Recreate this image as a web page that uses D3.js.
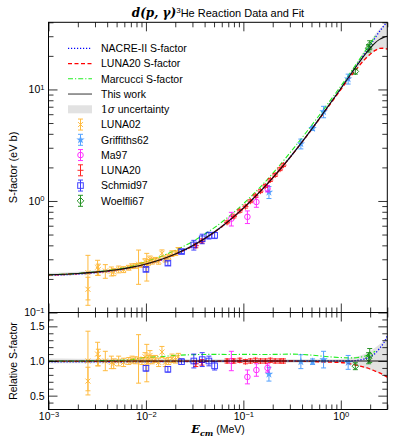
<!DOCTYPE html>
<html>
<head>
<meta charset="utf-8">
<script src="https://cdn.jsdelivr.net/npm/d3@7"></script>
<style>
body { margin: 0; background: #fff; }
text { font-family: "Liberation Sans", sans-serif; }
</style>
</head>
<body>
<div id="chart"></div>
<script>
// energy grid of the model curves (MeV)
var gridE = [0.001, 0.002, 0.003, 0.005, 0.007, 0.01, 0.015, 0.02, 0.03, 0.05, 0.07, 0.1, 0.15, 0.2, 0.3, 0.5, 0.7, 1.0, 1.3, 1.5, 1.75, 2.0, 2.25, 2.5, 2.75, 3.0];
// S-factors (eV b)
var thisWork = [0.218, 0.224, 0.230, 0.242, 0.254, 0.272, 0.303, 0.334, 0.396, 0.524, 0.656, 0.862, 1.225, 1.612, 2.45, 4.38, 6.59, 10.2, 14.2, 16.9, 20.3, 23.4, 26.2, 28.1, 29.3, 30.0];
var luna20S = [0.217, 0.223, 0.229, 0.241, 0.253, 0.271, 0.302, 0.333, 0.395, 0.523, 0.655, 0.861, 1.224, 1.61, 2.45, 4.35, 6.49, 9.98, 13.55, 15.8, 18.5, 20.7, 22.4, 23.3, 23.4, 23.0];
var nacreS = [0.215, 0.221, 0.227, 0.238, 0.251, 0.269, 0.300, 0.331, 0.393, 0.521, 0.654, 0.862, 1.225, 1.612, 2.45, 4.38, 6.59, 10.2, 14.2, 17.1, 20.9, 24.8, 29.1, 33.2, 36.9, 40.8];
var marcucciE = [0.001, 0.002, 0.003, 0.005, 0.007, 0.01, 0.015, 0.02, 0.03, 0.05, 0.07, 0.1, 0.15, 0.2, 0.3, 0.5, 0.7, 1.0, 1.3, 1.5, 1.75, 2.0, 2.25];
var marcucciS = [0.218, 0.224, 0.231, 0.244, 0.259, 0.286, 0.323, 0.361, 0.432, 0.574, 0.718, 0.944, 1.341, 1.765, 2.695, 4.75, 7.02, 10.71, 14.84, 17.75, 21.7, 25.7, 29.9];
// 1 sigma band of the fit, relative to the fit
var fitLoRel = [0.965, 0.966, 0.967, 0.968, 0.969, 0.970, 0.971, 0.972, 0.973, 0.974, 0.975, 0.975, 0.975, 0.975, 0.975, 0.975, 0.973, 0.97, 0.95, 0.93, 0.90, 0.87, 0.845, 0.82, 0.795, 0.77];
var fitHiRel = [1.035, 1.034, 1.033, 1.032, 1.031, 1.030, 1.029, 1.028, 1.027, 1.026, 1.025, 1.025, 1.025, 1.025, 1.025, 1.025, 1.027, 1.03, 1.05, 1.07, 1.10, 1.14, 1.19, 1.24, 1.29, 1.35];

// data sets: energy, S / fit, error of S / fit
var luna02E = [0.00254, 0.00254, 0.00319, 0.00325, 0.00383, 0.00442, 0.00467, 0.00525, 0.0059, 0.00666, 0.0072, 0.0078, 0.0084, 0.0091, 0.0098, 0.0102, 0.0106, 0.011, 0.0116, 0.0125, 0.0135, 0.0146, 0.0158, 0.0171, 0.0185, 0.0201, 0.0215];
var luna02Rel = [1.00, 0.71, 1.10, 1.05, 1.00, 0.98, 0.96, 1.00, 0.98, 1.00, 1.02, 1.01, 1.03, 1.00, 1.06, 0.97, 1.02, 1.08, 1.02, 1.03, 0.98, 1.13, 0.98, 1.00, 1.04, 1.02, 1.06];
var luna02Err = [0.43, 0.20, 0.17, 0.12, 0.14, 0.09, 0.07, 0.07, 0.06, 0.05, 0.05, 0.05, 0.35, 0.05, 0.06, 0.27, 0.06, 0.07, 0.06, 0.05, 0.06, 0.08, 0.06, 0.05, 0.06, 0.05, 0.05];
var griffE = [0.183, 0.389, 0.513, 0.665, 1.19];
var griffRel = [0.81, 0.99, 0.99, 1.02, 0.98];
var griffErr = [0.10, 0.10, 0.04, 0.12, 0.10];
var ma97E = [0.0753, 0.110, 0.136, 0.177];
var ma97Rel = [1.00, 0.77, 0.87, 0.90];
var ma97Err = [0.14, 0.10, 0.09, 0.06];
var luna20E = [0.0325, 0.0375, 0.068, 0.080, 0.092, 0.105, 0.118, 0.133, 0.150, 0.168, 0.189, 0.212, 0.238, 0.258];
var luna20Rel = [0.96, 0.98, 1.00, 1.00, 1.01, 0.99, 1.00, 1.01, 1.00, 1.00, 1.01, 1.00, 1.00, 1.00];
var luna20Err = [0.04, 0.04, 0.03, 0.03, 0.03, 0.03, 0.03, 0.03, 0.03, 0.03, 0.03, 0.03, 0.03, 0.03];
var schmidE = [0.0100, 0.0168, 0.0232, 0.0310, 0.0378, 0.0443, 0.0507];
var schmidRel = [0.895, 0.88, 0.99, 1.00, 1.02, 1.00, 0.93];
var schmidErr = [0.04, 0.04, 0.04, 0.10, 0.10, 0.07, 0.06];
var woelfliE = [1.41, 1.93, 1.98];
var woelfliRel = [0.925, 1.04, 1.08];
var woelfliErr = [0.05, 0.08, 0.10];

var xMajor = [0.001, 0.01, 0.1, 1];
var yTopMajor = [0.1, 1, 10];
var yBotMajor = [0.5, 1.0, 1.5];
var yBotMinor = [0.4, 0.6, 0.7, 0.8, 0.9, 1.1, 1.2, 1.3, 1.4, 1.6];

var datasets = [
  {name: "LUNA02", e: luna02E, rel: luna02Rel, err: luna02Err, color: "#ffa500", marker: "x", op: 0.75},
  {name: "Griffiths62", e: griffE, rel: griffRel, err: griffErr, color: "#2b8cff", marker: "star", op: 0.8},
  {name: "Ma97", e: ma97E, rel: ma97Rel, err: ma97Err, color: "#ff00ff", marker: "o", op: 0.8},
  {name: "LUNA20", e: luna20E, rel: luna20Rel, err: luna20Err, color: "#ff0000", marker: "+", op: 0.85},
  {name: "Schmid97", e: schmidE, rel: schmidRel, err: schmidErr, color: "#0000ff", marker: "s", op: 0.75},
  {name: "Woelfli67", e: woelfliE, rel: woelfliRel, err: woelfliErr, color: "#008000", marker: "D", op: 0.85}
];

var W = 395, H = 444;
var L = 48.5, R = 387.3, T = 22.3, MID = 312.5, B = 409.5;

var svg = d3.select("#chart").append("svg").attr("width", W).attr("height", H);

var x = d3.scaleLog().domain([1e-3, 3]).range([L, R]);
var yTop = d3.scaleLog().domain([0.1, 40]).range([MID, T]);
var yBot = d3.scaleLinear().domain([0.3, 1.7]).range([B, MID]);

// fit value at any energy (log-log between grid points)
function fitAt(e) {
  var i = d3.bisectLeft(gridE, e);
  if (i <= 0) return thisWork[0];
  if (i >= gridE.length) return thisWork[gridE.length - 1];
  var t = (Math.log(e) - Math.log(gridE[i - 1])) / (Math.log(gridE[i]) - Math.log(gridE[i - 1]));
  return Math.exp(Math.log(thisWork[i - 1]) + t * (Math.log(thisWork[i]) - Math.log(thisWork[i - 1])));
}

var defs = svg.append("defs");
defs.append("clipPath").attr("id", "clipTop").append("rect")
  .attr("x", L).attr("y", T).attr("width", R - L).attr("height", MID - T);
defs.append("clipPath").attr("id", "clipBot").append("rect")
  .attr("x", L).attr("y", MID).attr("width", R - L).attr("height", B - MID);

var gTop = svg.append("g").attr("clip-path", "url(#clipTop)");
var gBot = svg.append("g").attr("clip-path", "url(#clipBot)");

var curves = [
  {e: gridE, s: nacreS, color: "#0000ff", dash: "1.2,1.8", w: 1.3},
  {e: gridE, s: luna20S, color: "#ff0000", dash: "4,2.5", w: 1.3},
  {e: marcucciE, s: marcucciS, color: "#22ee22", dash: "5,2,1.2,2", w: 1.1}
];

function drawPanel(g, y, relative) {
  // band
  var band = d3.area()
    .x(function(d, i) { return x(gridE[i]); })
    .y0(function(d, i) { return y(fitLoRel[i] * (relative ? 1 : thisWork[i])); })
    .y1(function(d, i) { return y(fitHiRel[i] * (relative ? 1 : thisWork[i])); })
    .curve(d3.curveMonotoneX);
  g.append("path").datum(gridE).attr("d", band).attr("fill", "#e2e2e2").attr("stroke", "none");

  curves.forEach(function(c) {
    var line = d3.line()
      .x(function(d, i) { return x(c.e[i]); })
      .y(function(d, i) { return y(relative ? c.s[i] / thisWork[i] : c.s[i]); })
      .curve(d3.curveMonotoneX);
    g.append("path").datum(c.e).attr("d", line)
      .attr("fill", "none").attr("stroke", c.color).attr("stroke-width", c.w)
      .attr("stroke-dasharray", c.dash);
  });

  datasets.forEach(function(ds) {
    var dg = g.append("g").attr("opacity", ds.op);
    ds.e.forEach(function(e, i) {
      var f = relative ? 1 : fitAt(e);
      var v = ds.rel[i] * f, err = ds.err[i] * f;
      var px = x(e), py = y(v);
      errBar(dg, px, y(v + err), y(Math.max(v - err, 1e-3)), ds.color);
      marker(dg, ds.marker, px, py, ds.color);
    });
  });

  var fitLine = d3.line()
    .x(function(d, i) { return x(gridE[i]); })
    .y(function(d, i) { return y(relative ? 1 : thisWork[i]); })
    .curve(d3.curveMonotoneX);
  g.append("path").datum(gridE).attr("d", fitLine)
    .attr("fill", "none").attr("stroke", "#111").attr("stroke-width", 1.1);
}

function errBar(g, px, y1, y2, color) {
  g.append("line").attr("x1", px).attr("x2", px).attr("y1", y1).attr("y2", y2)
    .attr("stroke", color).attr("stroke-width", 1);
  [y1, y2].forEach(function(yy) {
    g.append("line").attr("x1", px - 2.5).attr("x2", px + 2.5).attr("y1", yy).attr("y2", yy)
      .attr("stroke", color).attr("stroke-width", 1);
  });
}

function marker(g, type, px, py, color) {
  if (type === "x") {
    g.append("path").attr("d", "M" + (px - 2.5) + "," + (py - 2.5) + "L" + (px + 2.5) + "," + (py + 2.5) +
      "M" + (px - 2.5) + "," + (py + 2.5) + "L" + (px + 2.5) + "," + (py - 2.5))
      .attr("stroke", color).attr("stroke-width", 1);
  } else if (type === "+") {
    g.append("path").attr("d", "M" + (px - 3) + "," + py + "L" + (px + 3) + "," + py +
      "M" + px + "," + (py - 3) + "L" + px + "," + (py + 3))
      .attr("stroke", color).attr("stroke-width", 1);
  } else if (type === "star") {
    g.append("path").attr("d", d3.symbol().type(d3.symbolStar).size(22)())
      .attr("transform", "translate(" + px + "," + py + ")").attr("fill", color);
  } else if (type === "o") {
    g.append("circle").attr("cx", px).attr("cy", py).attr("r", 2.8)
      .attr("fill", "none").attr("stroke", color).attr("stroke-width", 1);
  } else if (type === "s") {
    g.append("rect").attr("x", px - 2.8).attr("y", py - 2.8).attr("width", 5.6).attr("height", 5.6)
      .attr("fill", "none").attr("stroke", color).attr("stroke-width", 1);
  } else if (type === "D") {
    g.append("path").attr("d", "M" + px + "," + (py - 3.3) + "L" + (px + 3.3) + "," + py + "L" + px + "," + (py + 3.3) + "L" + (px - 3.3) + "," + py + "Z")
      .attr("fill", "none").attr("stroke", color).attr("stroke-width", 1);
  }
}

drawPanel(gTop, yTop, false);
drawPanel(gBot, yBot, true);

// axes
function supLabels(sel) {
  sel.selectAll(".tick text").each(function(d) {
    var t = d3.select(this);
    var p = Math.round(Math.log10(d));
    t.text("10");
    t.append("tspan").attr("dy", "-0.45em").attr("font-size", "0.72em").text(p < 0 ? "\u2212" + (-p) : p);
  });
}

function styleAxis(g) {
  g.select(".domain").remove();
  g.selectAll(".tick line").attr("stroke", "#000").attr("stroke-width", 0.8);
  g.selectAll(".tick text").attr("font-family", "'DejaVu Serif', serif").attr("font-size", 10.5).attr("fill", "#000");
}

var xMinor = x.ticks().filter(function(v) { return xMajor.indexOf(v) < 0; });
var yTopMinor = yTop.ticks().filter(function(v) { return yTopMajor.indexOf(v) < 0; });

[[T, MID, yTop, yTopMajor, yTopMinor, true], [MID, B, yBot, yBotMajor, yBotMinor, false]].forEach(function(p) {
  var top = p[0], bot = p[1], y = p[2], maj = p[3], mnr = p[4], isLog = p[5];
  var isBottom = !isLog;
  // x ticks
  var gb = svg.append("g").attr("transform", "translate(0," + bot + ")")
    .call(d3.axisBottom(x).tickValues(xMajor).tickSize(-9).tickPadding(3).tickFormat(isBottom ? null : ""));
  styleAxis(gb);
  if (isBottom) supLabels(gb);
  styleAxis(svg.append("g").attr("transform", "translate(0," + bot + ")")
    .call(d3.axisBottom(x).tickValues(xMinor).tickSize(-5).tickFormat("")));
  styleAxis(svg.append("g").attr("transform", "translate(0," + top + ")")
    .call(d3.axisTop(x).tickValues(xMajor).tickSize(-9).tickFormat("")));
  styleAxis(svg.append("g").attr("transform", "translate(0," + top + ")")
    .call(d3.axisTop(x).tickValues(xMinor).tickSize(-5).tickFormat("")));
  // y ticks
  var gl = svg.append("g").attr("transform", "translate(" + L + ",0)")
    .call(d3.axisLeft(y).tickValues(maj).tickSize(-9).tickPadding(4)
      .tickFormat(isLog ? null : d3.format(".1f")));
  styleAxis(gl);
  if (isLog) supLabels(gl);
  styleAxis(svg.append("g").attr("transform", "translate(" + L + ",0)")
    .call(d3.axisLeft(y).tickValues(mnr).tickSize(-5).tickFormat("")));
  styleAxis(svg.append("g").attr("transform", "translate(" + R + ",0)")
    .call(d3.axisRight(y).tickValues(maj).tickSize(-9).tickFormat("")));
  styleAxis(svg.append("g").attr("transform", "translate(" + R + ",0)")
    .call(d3.axisRight(y).tickValues(mnr).tickSize(-5).tickFormat("")));
  svg.append("rect").attr("x", L).attr("y", top).attr("width", R - L).attr("height", bot - top)
    .attr("fill", "none").attr("stroke", "#000").attr("stroke-width", 1);
});

// legend
var legendItems = [
  {label: "NACRE-II S-factor", kind: "line", color: "#0000ff", dash: "1.2,1.8", w: 1.3},
  {label: "LUNA20 S-factor", kind: "line", color: "#ff0000", dash: "4,2.5", w: 1.3},
  {label: "Marcucci S-factor", kind: "line", color: "#22ee22", dash: "5,2,1.2,2", w: 1.1},
  {label: "This work", kind: "line", color: "#808080", dash: null, w: 1.6},
  {label: "uncertainty", kind: "band"}
].concat(datasets.map(function(d) { return {label: d.name, kind: "data", ds: d}; }));

var lg = svg.append("g");
legendItems.forEach(function(it, i) {
  var ly = 48.3 + i * 15.25;
  if (it.kind === "line") {
    lg.append("line").attr("x1", 68).attr("x2", 92).attr("y1", ly).attr("y2", ly)
      .attr("stroke", it.color).attr("stroke-width", it.w).attr("stroke-dasharray", it.dash);
  } else if (it.kind === "band") {
    lg.append("rect").attr("x", 68).attr("y", ly - 4).attr("width", 24).attr("height", 8).attr("fill", "#e2e2e2");
  } else {
    var dg = lg.append("g").attr("opacity", it.ds.op);
    errBar(dg, 80.5, ly - 5.5, ly + 5.5, it.ds.color);
    marker(dg, it.ds.marker, 80.5, ly, it.ds.color);
  }
  var t = lg.append("text").attr("x", 101).attr("y", ly).attr("dy", "0.36em")
    .attr("font-size", 10.5).attr("fill", "#000");
  if (it.kind === "band") {
    t.append("tspan").attr("font-family", "'DejaVu Serif', serif").text("1");
    t.append("tspan").attr("font-family", "'DejaVu Serif', serif").attr("font-style", "italic").text("\u03c3");
    t.append("tspan").text(" uncertainty");
  } else {
    t.text(it.label);
  }
});

// title
var title = svg.append("text").attr("x", 218).attr("y", 17).attr("text-anchor", "middle").attr("fill", "#000");
title.append("tspan").attr("font-family", "'DejaVu Serif', serif").attr("font-weight", "bold")
  .attr("font-style", "italic").attr("font-size", 12).text("d(p, \u03b3)");
title.append("tspan").attr("font-size", 8).attr("dy", -4.5).text("3");
title.append("tspan").attr("font-size", 11).attr("dy", 4.5).text("He Reaction Data and Fit");

// axis labels
var xl = svg.append("text").attr("x", 218).attr("y", 433).attr("text-anchor", "middle").attr("fill", "#000");
xl.append("tspan").attr("font-family", "'DejaVu Serif', serif").attr("font-weight", "bold")
  .attr("font-style", "italic").attr("font-size", 11.5).text("E");
xl.append("tspan").attr("font-family", "'DejaVu Serif', serif").attr("font-weight", "bold")
  .attr("font-style", "italic").attr("font-size", 8).attr("dy", 2.5).text("cm");
xl.append("tspan").attr("font-size", 10.5).attr("dy", -2.5).text(" (MeV)");

svg.append("text").attr("transform", "translate(13," + ((T + MID) / 2) + ") rotate(-90)")
  .attr("text-anchor", "middle").attr("dy", "0.36em").attr("font-size", 11).text("S-factor (eV b)");
svg.append("text").attr("transform", "translate(13," + ((MID + B) / 2) + ") rotate(-90)")
  .attr("text-anchor", "middle").attr("dy", "0.36em").attr("font-size", 10.5).text("Relative S-factor");
</script>
</body>
</html>
